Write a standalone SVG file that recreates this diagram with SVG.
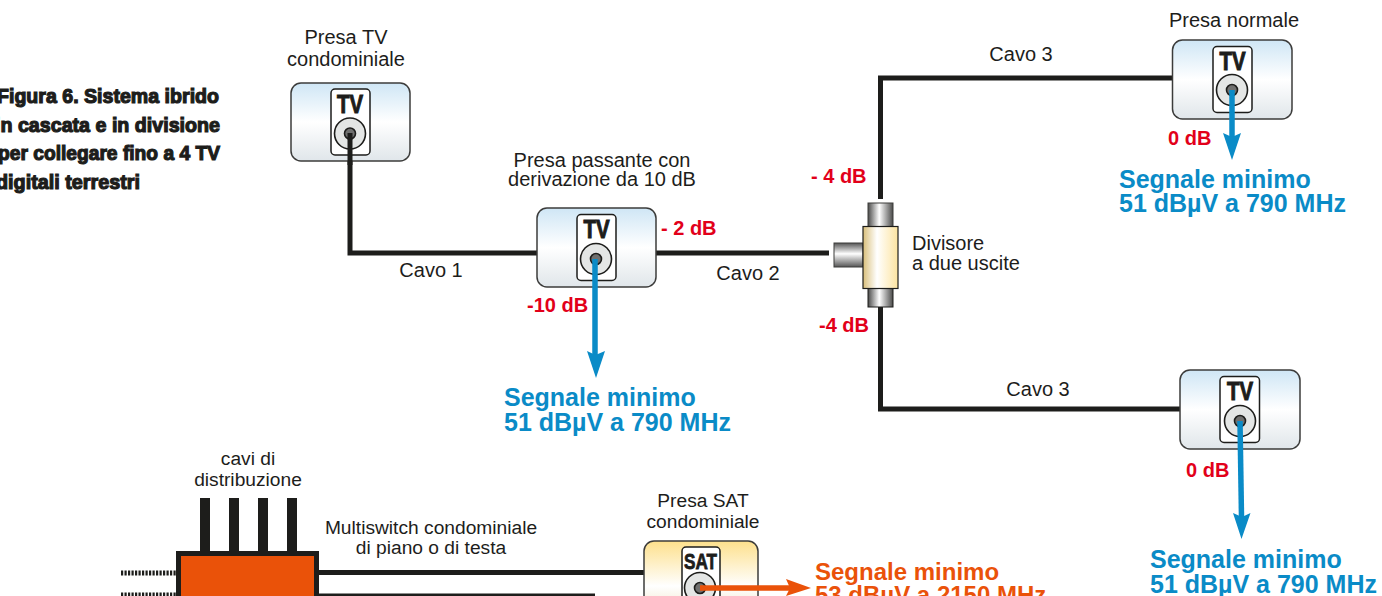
<svg xmlns="http://www.w3.org/2000/svg" width="1382" height="596" viewBox="0 0 1382 596">
<style>
text{font-family:"Liberation Sans",Arial,sans-serif}
.l{font-size:20px;fill:#1d1d1b;text-anchor:middle}
.ls{font-size:19.200px;fill:#1d1d1b;text-anchor:middle}
.r{font-size:20px;font-weight:bold;fill:#e2001a}
.b{font-size:25px;font-weight:bold;fill:#0a8bc7}
.o{font-size:24px;font-weight:bold;fill:#ea5209}
.t{font-size:20.500px;font-weight:bold;fill:#1d1d1b;stroke:#1d1d1b;stroke-width:1.200px}
.box{stroke:#3c3c3b;stroke-width:1.5;fill:url(#gb)}
.boxs{stroke:#3c3c3b;stroke-width:1.5;fill:url(#gs)}
.pl{fill:#fff;stroke:#1d1d1b;stroke-width:1.5}
.c1{fill:#e4e6e5;stroke:#1d1d1b;stroke-width:1.6}
.c2{fill:#6f6f6e;stroke:#1d1d1b;stroke-width:1.6}
.tv{font-size:26.500px;font-weight:bold;fill:#1d1d1b;stroke:#1d1d1b;stroke-width:1.100px;text-anchor:middle}
.cab{fill:none;stroke:#1d1d1b;stroke-width:5}
.ab{fill:none;stroke:#0a8bc7;stroke-width:5.500}
.hb{fill:#0a8bc7}
</style>
<defs>
<linearGradient id="gb" x1="0" y1="0" x2="0" y2="1"><stop offset="0" stop-color="#cfe6f5"/><stop offset=".5" stop-color="#fff"/><stop offset="1" stop-color="#e0e6ea"/></linearGradient>
<linearGradient id="gs" x1="0" y1="0" x2="0" y2="1"><stop offset="0" stop-color="#fde08c"/><stop offset=".5" stop-color="#fff"/><stop offset="1" stop-color="#e6d6a8"/></linearGradient>
<linearGradient id="gm" x1="0" y1="0" x2="1" y2="0"><stop offset="0" stop-color="#4a4a49"/><stop offset=".45" stop-color="#fff"/><stop offset="1" stop-color="#4a4a49"/></linearGradient>
<linearGradient id="gh" x1="0" y1="0" x2="0" y2="1"><stop offset="0" stop-color="#555"/><stop offset=".45" stop-color="#fff"/><stop offset="1" stop-color="#555"/></linearGradient>
<linearGradient id="gy" x1="0" y1="0" x2="1" y2="0"><stop offset="0" stop-color="#d9bf7a"/><stop offset=".4" stop-color="#fff"/><stop offset="1" stop-color="#fde4a0"/></linearGradient>
</defs>
<g id="title">
<text class="t" x="-3" y="103" textLength="222" lengthAdjust="spacingAndGlyphs">Figura 6. Sistema ibrido</text>
<text class="t" x="-5" y="131.500" textLength="225" lengthAdjust="spacingAndGlyphs">in cascata e in divisione</text>
<text class="t" x="-2" y="160" textLength="222" lengthAdjust="spacingAndGlyphs">per collegare fino a 4 TV</text>
<text class="t" x="-4" y="188.500" textLength="144" lengthAdjust="spacingAndGlyphs">digitali terrestri</text>
</g>
<g id="connectors">
<path class="cab" d="M350 133V253H537"/>
<path class="cab" d="M656 253H829"/>
<path class="cab" d="M1173 78H880.500V199"/>
<path class="cab" d="M880.500 307V409H1180"/>
<path d="M205 498V552M234 498V552M263 498V552M292 498V552" fill="none" stroke="#1d1d1b" stroke-width="10"/>
<path d="M121 573H176M121 595H176" fill="none" stroke="#1d1d1b" stroke-width="5" stroke-dasharray="2.200 1.300"/>
<path class="cab" d="M319 572.500H645"/>
<path class="cab" d="M319 596H595"/>
</g>
<g id="presa-condominiale">
<text class="l" x="346" y="44">Presa TV</text><text class="l" x="346" y="66">condominiale</text>
<rect class="box" x="291" y="83" width="119" height="78" rx="10"/>
<rect class="pl" x="331" y="89" width="39" height="66" rx="4"/>
<text class="tv" x="350" y="113" textLength="26" lengthAdjust="spacingAndGlyphs">TV</text>
<circle class="c1" cx="350" cy="133.500" r="15.500"/><circle class="c2" cx="350" cy="133.500" r="5.500"/>
<path class="cab" d="M350 133V165"/>
</g>
<g id="presa-passante">
<text class="l" x="602" y="166.500">Presa passante con</text><text class="l" x="602" y="185.500">derivazione da 10 dB</text>
<rect class="box" x="537" y="208" width="119" height="79" rx="10"/>
<rect class="pl" x="577" y="214.500" width="39" height="66" rx="4"/>
<text class="tv" x="596.500" y="238" textLength="26" lengthAdjust="spacingAndGlyphs">TV</text>
<circle class="c1" cx="596" cy="259" r="15.500"/><circle class="c2" cx="596" cy="259" r="5.500"/>
<path class="ab" d="M595 259V355"/><path class="hb" d="M587 351L595.500 355L605 351L596 378Z"/>
<text class="r" x="661" y="235">- 2 dB</text><text class="r" x="527" y="312">-10 dB</text>
<text class="b" x="504" y="406">Segnale minimo</text><text class="b" x="504" y="431">51 dBµV a 790 MHz</text>
</g>
<g id="divisore">
<rect x="868" y="203" width="25" height="24" fill="url(#gm)" stroke="#3c3c3b"/>
<rect x="868" y="288" width="25" height="19" fill="url(#gm)" stroke="#1d1d1b"/>
<rect x="834" y="243" width="29" height="24" fill="url(#gh)" stroke="#3c3c3b"/>
<rect x="863" y="226.500" width="35" height="62" fill="url(#gy)" stroke="#1d1d1b" stroke-width="1.200"/>
<text x="912" y="250" font-size="20" fill="#1d1d1b">Divisore</text><text x="912" y="270" font-size="20" fill="#1d1d1b">a due uscite</text>
<text class="r" x="811" y="183">- 4 dB</text><text class="r" x="819" y="332">-4 dB</text>
</g>
<text class="l" x="431" y="277">Cavo 1</text>
<text class="l" x="748" y="280">Cavo 2</text>
<text class="l" x="1021" y="61">Cavo 3</text>
<text class="l" x="1038" y="396">Cavo 3</text>
<g id="presa-normale">
<text class="l" x="1234" y="27">Presa normale</text>
<rect class="box" x="1172.500" y="40" width="119.500" height="79" rx="10"/>
<rect class="pl" x="1213" y="46.500" width="39" height="66" rx="4"/>
<text class="tv" x="1232.500" y="70" textLength="26" lengthAdjust="spacingAndGlyphs">TV</text>
<circle class="c1" cx="1232" cy="90" r="15.500"/><circle class="c2" cx="1232" cy="90" r="5.500"/>
<path class="ab" d="M1232 90V137"/><path class="hb" d="M1223 133L1232 137L1241 133L1232 160Z"/>
<text class="r" x="1168" y="145">0 dB</text>
<text class="b" x="1119" y="188">Segnale minimo</text><text class="b" x="1119" y="212">51 dBµV a 790 MHz</text>
</g>
<g id="presa-4">
<rect class="box" x="1180" y="370" width="120" height="79" rx="10"/>
<rect class="pl" x="1220" y="376.500" width="39.500" height="66" rx="4"/>
<text class="tv" x="1240" y="400" textLength="26" lengthAdjust="spacingAndGlyphs">TV</text>
<circle class="c1" cx="1240" cy="421" r="15.500"/><circle class="c2" cx="1240" cy="421" r="5.500"/>
<path class="ab" d="M1240 421L1241.500 517"/><path class="hb" d="M1233 513L1242 517L1250.500 513L1241.500 539Z"/>
<text class="r" x="1186" y="477">0 dB</text>
<text class="b" x="1150" y="568">Segnale minimo</text><text class="b" x="1150" y="593">51 dBµV a 790 MHz</text>
</g>
<g id="multiswitch">
<text class="ls" x="248" y="465">cavi di</text><text class="ls" x="248" y="486">distribuzione</text>
<text class="ls" x="431" y="534">Multiswitch condominiale</text><text class="ls" x="431" y="554">di piano o di testa</text>
<rect x="178.500" y="553.500" width="138" height="60" fill="#ea5209" stroke="#1d1d1b" stroke-width="5"/>
</g>
<g id="presa-sat">
<text class="ls" x="703" y="507">Presa SAT</text><text class="ls" x="703" y="528">condominiale</text>
<rect class="boxs" x="644" y="541" width="114" height="90" rx="10"/>
<rect class="pl" x="682" y="547" width="38" height="70" rx="4"/>
<text x="700.500" y="569" font-size="22" font-weight="bold" fill="#1d1d1b" stroke="#1d1d1b" stroke-width=".8" text-anchor="middle" textLength="33" lengthAdjust="spacingAndGlyphs">SAT</text>
<circle class="c1" cx="700" cy="588" r="15.500"/><circle class="c2" cx="700" cy="588" r="5.500"/>
<path d="M700 588H790" fill="none" stroke="#ea5209" stroke-width="5.500"/><path d="M786 579L790 588L786 596L811 588Z" fill="#ea5209"/>
<text class="o" x="815" y="580">Segnale minimo</text><text class="o" x="815" y="603">53 dBµV a 2150 MHz</text>
</g>
</svg>
